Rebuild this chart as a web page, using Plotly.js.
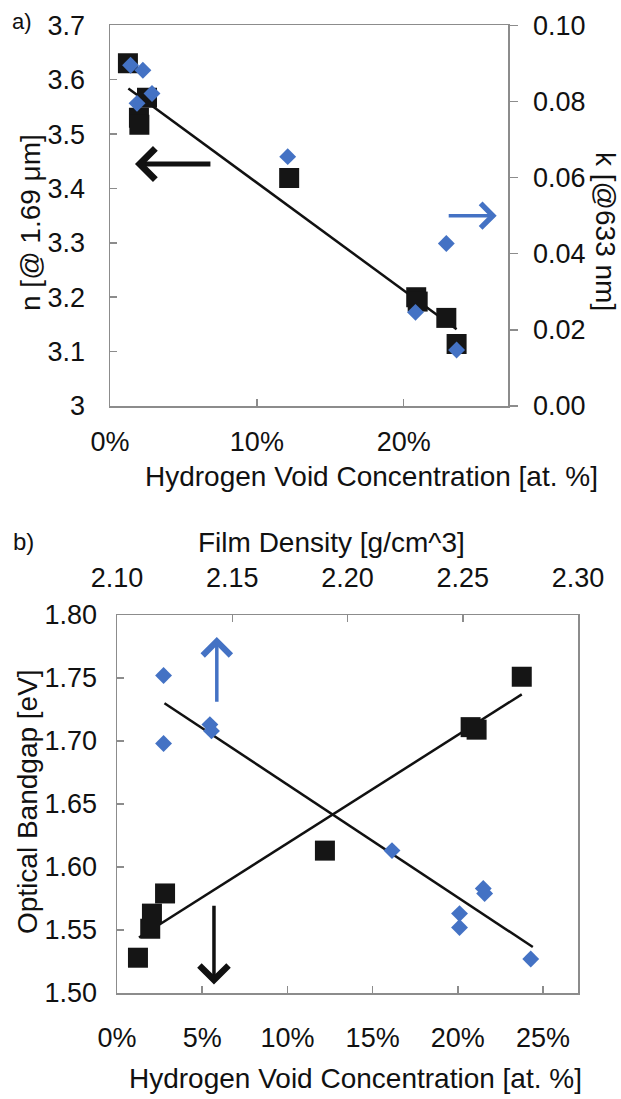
<!DOCTYPE html>
<html>
<head>
<meta charset="utf-8">
<script src="https://cdn.plot.ly/plotly-3.0.1.min.js"></script>
<style>html,body{margin:0;padding:0;background:#fff;}#chart{width:621px;height:1099px;}</style>
</head>
<body>
<div id="chart"></div>
<script>
// ---------- Panel a data ----------
const aVoidN = [0.0122, 0.0197, 0.0200, 0.0252, 0.1220, 0.2085, 0.2095, 0.2290, 0.2360];
const aIndexN = [3.630, 3.530, 3.517, 3.567, 3.419, 3.200, 3.192, 3.162, 3.114];
const aVoidK = [0.0140, 0.0224, 0.0184, 0.0286, 0.1210, 0.2080, 0.2290, 0.2360];
const aExtK = [0.0895, 0.0882, 0.0795, 0.0821, 0.0655, 0.0246, 0.0427, 0.0147];
const aFitX = [0.0125, 0.2360];
const aFitN = [3.584, 3.141];

// ---------- Panel b data ----------
const bVoid = [0.0123, 0.0195, 0.0205, 0.0282, 0.1220, 0.2075, 0.2110, 0.2375];
const bGapSq = [1.528, 1.551, 1.563, 1.579, 1.613, 1.711, 1.709, 1.751];
const bDensity = [2.1202, 2.1202, 2.1403, 2.1410, 2.2193, 2.2486, 2.2486, 2.2589, 2.2595, 2.2795];
const bGapDi = [1.752, 1.698, 1.713, 1.708, 1.613, 1.563, 1.552, 1.583, 1.579, 1.527];
const bFitVoidX = [0.0129, 0.2375];
const bFitVoidY = [1.544, 1.737];
const bFitDenX = [2.1206, 2.2804];
const bFitDenY = [1.730, 1.5365];

// tick labels
const aXTicks = [0, 0.1, 0.2];
const bXTicks = [0, 0.05, 0.10, 0.15, 0.20, 0.25];
const bTopTicks = [2.10, 2.15, 2.20, 2.25, 2.30];

// arrows: [tipX, tipY, tailX, tailY]
const arrowAn = [0.0170, 3.445, 0.0694, 3.445];
const arrowAk = [0.2633, 0.050, 0.2296, 0.050];
const arrowBden = [2.1433, 1.7825, 2.1433, 1.7299];
const arrowBvoid = [0.0569, 1.5068, 0.0569, 1.5705];

const W = 621, H = 1099;
const px = v => v / W;
const py = v => 1 - v / H;

const FONT = 'Liberation Sans, Arial, sans-serif';
const TXT = '#111';
const FRAME = '#8c8c8c';
const BLUE = '#4472c4';
const BLACK = '#151515';
const FS = 27;
const TS = 28;

const traces = [
  {x: aFitX, y: aFitN, xaxis: 'x', yaxis: 'y', mode: 'lines', line: {color: '#111', width: 2.5}, hoverinfo: 'skip'},
  {x: aVoidN, y: aIndexN, xaxis: 'x', yaxis: 'y', mode: 'markers', marker: {symbol: 'square', size: 20, color: BLACK}},
  {x: aVoidK, y: aExtK, xaxis: 'x', yaxis: 'y2', mode: 'markers', marker: {symbol: 'diamond', size: 13, color: BLUE}},
  {x: bFitVoidX, y: bFitVoidY, xaxis: 'x3', yaxis: 'y3', mode: 'lines', line: {color: '#111', width: 2.5}, hoverinfo: 'skip'},
  {x: bFitDenX, y: bFitDenY, xaxis: 'x4', yaxis: 'y3', mode: 'lines', line: {color: '#111', width: 2.5}, hoverinfo: 'skip'},
  {x: bVoid, y: bGapSq, xaxis: 'x3', yaxis: 'y3', mode: 'markers', marker: {symbol: 'square', size: 20, color: BLACK}},
  {x: bDensity, y: bGapDi, xaxis: 'x4', yaxis: 'y3', mode: 'markers', marker: {symbol: 'diamond', size: 13, color: BLUE}}
];

const axBase = {
  showgrid: false, zeroline: false, showline: true, linecolor: FRAME, linewidth: 1.5,
  tickcolor: FRAME, tickwidth: 1.5, ticklen: 7,
  tickfont: {family: FONT, size: FS, color: TXT}
};

function arrow(a, xr, yr, color, width, size) {
  return {x: a[0], y: a[1], ax: a[2], ay: a[3], xref: xr, yref: yr, axref: xr, ayref: yr,
    text: '', showarrow: true, arrowhead: 4, arrowcolor: color, arrowwidth: width, arrowsize: size};
}
function label(text, x, y, angle, size) {
  return {text: text, x: px(x), y: py(y), xref: 'paper', yref: 'paper', showarrow: false,
    xanchor: 'center', yanchor: 'middle', textangle: angle || 0,
    font: {family: FONT, size: size || TS, color: TXT}};
}

const layout = {
  width: W, height: H, margin: {l: 0, r: 0, t: 0, b: 0},
  paper_bgcolor: '#fff', plot_bgcolor: '#fff', showlegend: false,
  xaxis: Object.assign({}, axBase, {domain: [px(110), px(508)], range: [0, 0.271], anchor: 'y',
    tickvals: aXTicks, tickformat: '.0%', ticks: 'inside', mirror: true, ticklabelstandoff: 11}),
  yaxis: Object.assign({}, axBase, {domain: [py(406), py(25.3)], range: [3.0, 3.7], anchor: 'x',
    dtick: 0.1, ticks: 'inside', mirror: true, ticklabelstandoff: 18}),
  yaxis2: Object.assign({}, axBase, {overlaying: 'y', side: 'right', anchor: 'x', range: [0, 0.1],
    dtick: 0.02, tickformat: '.2f', ticks: 'outside', ticklen: 8, ticklabelstandoff: 10}),
  xaxis3: Object.assign({}, axBase, {domain: [px(117), px(578)], range: [0, 0.2705], anchor: 'y3',
    tickvals: bXTicks, tickformat: '.0%', ticks: 'inside', mirror: true, ticklabelstandoff: 20}),
  xaxis4: Object.assign({}, axBase, {overlaying: 'x3', side: 'top', anchor: 'y3', range: [2.10, 2.30],
    tickvals: bTopTicks, tickformat: '.2f', ticks: 'inside', ticklabelstandoff: 16}),
  yaxis3: Object.assign({}, axBase, {domain: [py(993), py(615)], range: [1.5, 1.8], anchor: 'x3',
    dtick: 0.05, tickformat: '.2f', ticks: 'inside', mirror: true, ticklabelstandoff: 13}),
  annotations: [
    label('a)', 22, 22, 0, 22),
    label('b)', 23, 541, 0, 24),
    label('Hydrogen Void Concentration [at. %]', 371, 477),
    label('n [@ 1.69 μm]', 30, 223, -90),
    label('k [@633 nm]', 605, 231, 90),
    label('Film Density [g/cm^3]', 331, 543),
    label('Hydrogen Void Concentration [at. %]', 355, 1078),
    label('Optical Bandgap [eV]', 27, 802, -90),
    arrow(arrowAn, 'x', 'y', '#111', 5, 1.2),
    arrow(arrowAk, 'x', 'y2', BLUE, 3.5, 1.35),
    arrow(arrowBden, 'x4', 'y3', BLUE, 3.5, 1.55),
    arrow(arrowBvoid, 'x3', 'y3', '#111', 3.5, 1.6)
  ]
};

Plotly.newPlot('chart', traces, layout, {staticPlot: true, displayModeBar: false});
</script>
</body>
</html>
